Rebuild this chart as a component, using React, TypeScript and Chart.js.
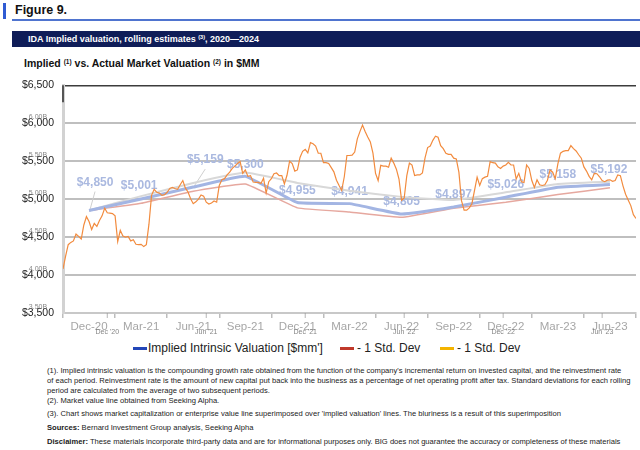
import React, { useEffect, useRef } from "react";
import { Chart, registerables } from "chart.js";

Chart.register(...registerables);

const FONT = '"Liberation Sans", Arial, Helvetica, sans-serif';

// Quarter-end categories on the x axis
const quarters = [
  "Dec-20", "Mar-21", "Jun-21", "Sep-21", "Dec-21", "Mar-22",
  "Jun-22", "Sep-22", "Dec-22", "Mar-23", "Jun-23",
];

// Rolling implied intrinsic valuation, $MM
const impliedValuation = [4850, 5001, 5159, 5300, 4955, 4941, 4805, 4897, 5026, 5158, 5192];
// Lower band (- 1 std. dev), $MM
const lowerBand = [4850, 4945, 5105, 5200, 4885, 4830, 4760, 4880, 4960, 5060, 5150];
// Upper band, $MM
const upperBand = [4850, 5040, 5214, 5350, 5214, 5110, 5030, 4990, 5090, 5200, 5230];

// Market capitalization, $MM, 20 samples per quarter
const marketCap = [
  4080, 4250, 4400, 4430, 4450, 4540, 4510, 4475, 4660, 4770,
  4705, 4600, 4680, 4640, 4720, 4780, 4880, 4820, 4815, 4810,
  4780, 4440, 4590, 4515, 4500, 4510, 4450, 4465, 4405, 4400,
  4405, 4375, 4400, 4670, 5050, 5130, 5090, 5080, 5050, 5060,
  5090, 5140, 5155, 5140, 5130, 5190, 5245, 5145, 5095, 5005,
  4940, 4965, 5000, 5055, 5040, 4960, 4935, 4950, 4975, 4960,
  5180, 5255, 5270, 5320, 5355, 5405, 5435, 5470, 5495, 5340,
  5385, 5300, 5310, 5225, 5220, 5220, 5205, 5275, 5080, 5230,
  5270, 5335, 5345, 5310, 5310, 5200, 5315, 5500, 5470, 5370,
  5385, 5550, 5630, 5655, 5610, 5745, 5730, 5700, 5605, 5605,
  5480, 5480, 5470, 5415, 5360, 5250, 5180, 5115, 5295, 5575,
  5575, 5580, 5620, 5795, 5890, 5975, 5890, 5820, 5755, 5605,
  5340, 5245, 5445, 5435, 5435, 5420, 5540, 5475, 5395, 5265,
  4985, 5015, 5310, 5475, 5450, 5310, 5320, 5320, 5345, 5545,
  5680, 5700, 5775, 5830, 5815, 5705, 5665, 5605, 5590, 5590,
  5540, 5530, 5355, 4980, 4855, 4855, 4885, 4940, 5115, 5290,
  5180, 5270, 5290, 5300, 5495, 5480, 5475, 5425, 5405, 5435,
  5450, 5485, 5450, 5450, 5265, 5340, 5230, 5220, 5450, 5405,
  5245, 5155, 5255, 5190, 5180, 5190, 5250, 5385, 5355, 5270,
  5465, 5605, 5630, 5640, 5640, 5705, 5665, 5635, 5585, 5540,
  5425, 5370, 5300, 5255, 5340, 5335, 5295, 5245, 5230, 5250,
  5255, 5235, 5245, 5320, 5310, 5175, 5065, 4990, 4915, 4795,
  4745,
];

// Value axis
const yMin = 3500;
const yMax = 6500;
const yStep = 500;

// Secondary (market-data) axis captions
const marketYLabels = ["6.00B", "5.50B", "5.00B", "4.50B", "4.00B", "3.50B"];
const marketYValues = [6000, 5500, 5000, 4500, 4000, 3500];
const marketXLabels = ["Dec '20", "Jun '21", "Dec '21", "Jun '22", "Dec '22", "Jun '23"];
const marketXSamples = [17, 55, 93, 131, 169, 207];

const fmtMoney = (v: number) => "$" + v.toLocaleString("en-US");

// Per-label placement of the valuation captions
const captionPlacement: Record<number, { dx: number; dy: number; leader?: boolean }> = {
  0: { dx: 6, dy: -28, leader: true },
  1: { dx: -2, dy: -13 },
  2: { dx: 12, dy: -27, leader: true },
  10: { dx: -1, dy: -15 },
};

const overlayPlugin = {
  id: "overlay",
  beforeDatasetsDraw(chart: any) {
    const { ctx } = chart;
    const meta = chart.getDatasetMeta(3);
    ctx.save();
    ctx.font = `bold 12px ${FONT}`;
    ctx.textAlign = "center";
    ctx.textBaseline = "middle";
    meta.data.forEach((pt: any, i: number) => {
      const p = captionPlacement[i] || { dx: 0, dy: -12 };
      const lx = pt.x + p.dx;
      const ly = pt.y + p.dy;
      if (p.leader) {
        ctx.strokeStyle = "#cfcfcf";
        ctx.lineWidth = 1;
        ctx.beginPath();
        ctx.moveTo(pt.x + 1, pt.y - 1);
        ctx.lineTo(lx, ly + 9);
        ctx.stroke();
      }
      ctx.fillStyle = "#aab9e0";
      ctx.fillText(fmtMoney(impliedValuation[i]), lx, ly);
    });
    ctx.restore();
  },
  afterDraw(chart: any) {
    const { ctx, chartArea } = chart;
    const yS = chart.scales.y;
    const xm = chart.scales.xm;
    ctx.save();
    // dark cap on the upper part of the left axis
    ctx.strokeStyle = "#555";
    ctx.lineWidth = 2;
    ctx.beginPath();
    ctx.moveTo(chartArea.left, chartArea.top);
    ctx.lineTo(chartArea.left, chartArea.top + 17);
    ctx.stroke();
    // market-data axis captions
    ctx.font = `7px ${FONT}`;
    ctx.fillStyle = "rgba(110,110,110,0.85)";
    ctx.textAlign = "center";
    ctx.textBaseline = "middle";
    marketYLabels.forEach((t, i) => {
      ctx.fillText(t, chartArea.left - 25, yS.getPixelForValue(marketYValues[i]) - 6);
    });
    ctx.strokeStyle = "rgba(150,150,150,0.7)";
    ctx.lineWidth = 1;
    marketXLabels.forEach((t, i) => {
      const x = xm.getPixelForValue(marketXSamples[i]);
      ctx.fillText(t, x, chartArea.bottom + 19);
      ctx.beginPath();
      ctx.moveTo(x, chartArea.bottom);
      ctx.lineTo(x, chartArea.bottom + 5);
      ctx.stroke();
    });
    ctx.restore();
  },
};

function ValuationChart() {
  const ref = useRef<HTMLCanvasElement | null>(null);
  useEffect(() => {
    if (!ref.current) return;
    const chart = new Chart(ref.current, {
      type: "line",
      data: {
        labels: quarters,
        datasets: [
          {
            label: "Market value",
            data: marketCap.map((v, i) => ({ x: i, y: v })),
            xAxisID: "xm",
            borderColor: "#f28b3e",
            borderWidth: 1.2,
            pointRadius: 0,
            tension: 0,
            order: 0,
          },
          {
            label: "- 1 Std. Dev (upper)",
            data: upperBand,
            borderColor: "#d8d8d8",
            borderWidth: 2,
            pointRadius: 0,
            tension: 0.1,
            order: 3,
          },
          {
            label: "- 1 Std. Dev",
            data: lowerBand,
            borderColor: "#e6a89f",
            borderWidth: 1.5,
            pointRadius: 0,
            tension: 0.1,
            order: 2,
          },
          {
            label: "Implied Intrinsic Valuation [$mm']",
            data: impliedValuation,
            borderColor: "#a3b5e3",
            borderWidth: 3,
            pointRadius: 0,
            tension: 0.1,
            order: 1,
          },
        ] as any,
      },
      options: {
        animation: false,
        responsive: false,
        layout: { padding: { top: 8, right: 4, left: 0, bottom: 0 } },
        plugins: { legend: { display: false }, tooltip: { enabled: false } },
        scales: {
          x: {
            type: "category",
            offset: true,
            grid: {
              offset: true,
              drawOnChartArea: false,
              drawTicks: true,
              tickLength: 5,
              color: "#bdbdbd",
              lineWidth: 1.5,
            },
            border: { color: "#c8c8c8", width: 2 },
            ticks: {
              color: "#a6a6a6",
              font: { family: FONT, size: 11.5 },
              padding: 2,
              maxRotation: 0,
              autoSkip: false,
            },
            afterFit: (s: any) => {
              s.height = 27;
            },
          },
          xm: { type: "linear", min: 0, max: marketCap.length - 1, display: false },
          y: {
            min: yMin,
            max: yMax,
            ticks: {
              stepSize: yStep,
              callback: (v: any) => fmtMoney(Number(v)),
              color: "#222",
              font: { family: FONT, size: 10.5 },
              padding: 9,
            },
            grid: {
              drawTicks: false,
              color: (c: any) =>
                c.tick && c.tick.value === yMax ? "#3c3c3c" : c.tick && c.tick.value === yMin ? "rgba(0,0,0,0)" : "#bfbfbf",
              lineWidth: (c: any) => (c.tick && c.tick.value === yMax ? 1.5 : 2),
            },
            border: { color: "#d2d2d2", width: 3 },
            afterFit: (s: any) => {
              s.width = 63;
            },
          },
        } as any,
      },
      plugins: [overlayPlugin],
    });
    return () => chart.destroy();
  }, []);
  return <canvas ref={ref} width={640} height={270} style={{ position: "absolute", left: 0, top: 70 }} />;
}

const sup: React.CSSProperties = { fontSize: "0.62em", position: "relative", top: "-0.5em" };

const footnoteLines = [
  "(1). Implied intrinsic valuation is the compounding growth rate obtained from the function of the company's incremental return on invested capital, and the reinvestment rate",
  "of each period. Reinvestment rate is the amount of new capital put back into the business as a percentage of net operating profit after tax. Standard deviations for each rolling",
  "period are calculated from the average of two subsequent periods.",
  "(2). Market value line obtained from Seeking Alpha.",
];

export default function App() {
  const legendText: React.CSSProperties = { position: "absolute", top: 341, fontSize: 12, lineHeight: "14px", color: "#222", whiteSpace: "nowrap" };
  const swatch = (left: number, color: string): React.CSSProperties => ({ position: "absolute", left, top: 347, width: 14, height: 2.5, background: color });
  const note: React.CSSProperties = { position: "absolute", left: 47, fontSize: 7.6, lineHeight: "10px", color: "#222", whiteSpace: "nowrap" };
  return (
    <div style={{ position: "absolute", left: 0, top: 0, width: 640, height: 450, background: "#fff", fontFamily: FONT, overflow: "hidden" }}>
      <div style={{ position: "absolute", left: 3, top: 3, width: 3, height: 16, background: "#2f5bd3" }} />
      <div style={{ position: "absolute", left: 15, top: 2, fontSize: 12.5, fontWeight: "bold", lineHeight: "17px", color: "#111" }}>Figure 9.</div>
      <div style={{ position: "absolute", left: 12, top: 19, width: 628, height: 2, background: "#4f74cf" }} />
      <div style={{ position: "absolute", left: 12, top: 31, width: 628, height: 16, background: "#0f1d58" }} />
      <div style={{ position: "absolute", left: 28, top: 31, lineHeight: "16px", fontSize: 9, fontWeight: "bold", color: "#fff", whiteSpace: "nowrap" }}>
        IDA Implied valuation, rolling estimates <span style={sup}>(3)</span>, 2020—2024
      </div>
      <div style={{ position: "absolute", left: 24, top: 56, lineHeight: "14px", fontSize: 10.5, fontWeight: "bold", color: "#111", whiteSpace: "nowrap" }}>
        Implied <span style={sup}>(1)</span> vs. Actual Market Valuation <span style={sup}>(2)</span> in $MM
      </div>

      <ValuationChart />

      <div style={swatch(133, "#2346b8")} />
      <div style={{ ...legendText, left: 148 }}>Implied Intrinsic Valuation [$mm']</div>
      <div style={swatch(340, "#c0392b")} />
      <div style={{ ...legendText, left: 357 }}>- 1 Std. Dev</div>
      <div style={swatch(440, "#f4b400")} />
      <div style={{ ...legendText, left: 457 }}>- 1 Std. Dev</div>

      {footnoteLines.map((t, i) => (
        <div key={i} style={{ ...note, top: 366 + i * 10 }}>{t}</div>
      ))}
      <div style={{ ...note, top: 409 }}>
        (3). Chart shows market capitalization or enterprise value line superimposed over 'implied valuation' lines. The bluriness is a result of this superimposition
      </div>
      <div style={{ ...note, top: 423 }}>
        <b>Sources:</b> Bernard Investment Group analysis, Seeking Alpha
      </div>
      <div style={{ ...note, top: 437 }}>
        <b>Disclaimer:</b> These materials incorporate third-party data and are for informational purposes only. BIG does not guarantee the accuracy or completeness of these materials
      </div>
    </div>
  );
}
